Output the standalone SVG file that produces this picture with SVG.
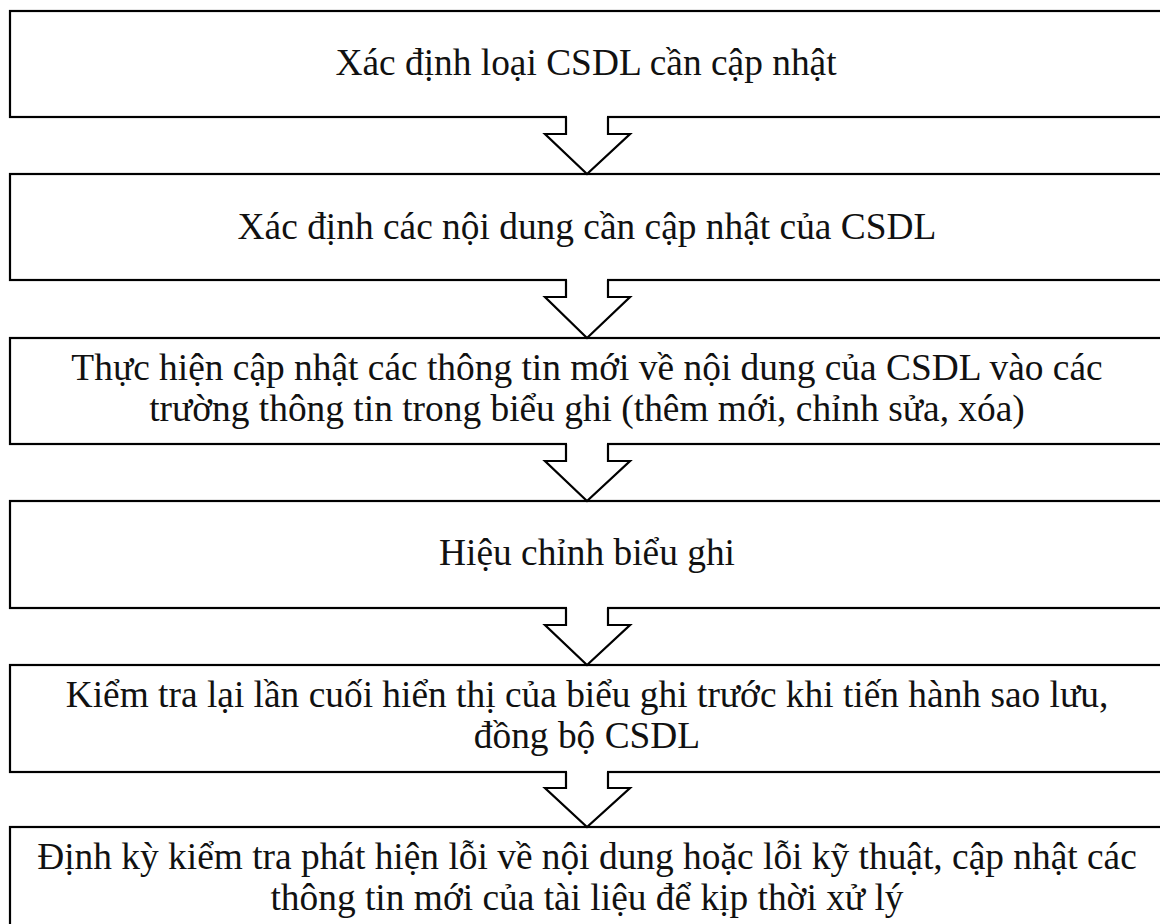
<svg xmlns="http://www.w3.org/2000/svg" width="1160" height="924" viewBox="0 0 1160 924">
<style>
.box{fill:#fff;stroke:#000;stroke-width:2.2}
.t{font-family:"Liberation Serif","Times New Roman",serif;font-size:37.4px;fill:#111;text-anchor:middle}
.arr{fill:#fff;stroke:#000;stroke-width:2.2;stroke-linejoin:miter}
.gap{fill:#fff}
</style>
<rect width="1160" height="924" fill="#fff"/>
<g id="n1"><rect class="box" x="10" y="11" width="1160" height="106"/><text class="t" x="586" y="75">Xác định loại CSDL cần cập nhật</text></g>
<g id="n2"><rect class="box" x="10" y="174" width="1160" height="106"/><text class="t" x="587" y="239">Xác định các nội dung cần cập nhật của CSDL</text></g>
<g id="n3"><rect class="box" x="10" y="338" width="1160" height="106"/><text class="t" x="587" y="380">Thực hiện cập nhật các thông tin mới về nội dung của CSDL vào các</text><text class="t" x="587" y="421">trường thông tin trong biểu ghi (thêm mới, chỉnh sửa, xóa)</text></g>
<g id="n4"><rect class="box" x="10" y="501" width="1160" height="107"/><text class="t" x="587" y="565">Hiệu chỉnh biểu ghi</text></g>
<g id="n5"><rect class="box" x="10" y="665" width="1160" height="107"/><text class="t" x="587" y="707">Kiểm tra lại lần cuối hiển thị của biểu ghi trước khi tiến hành sao lưu,</text><text class="t" x="587" y="748">đồng bộ CSDL</text></g>
<g id="n6"><rect class="box" x="10" y="827" width="1160" height="120"/><text class="t" x="587" y="869">Định kỳ kiểm tra phát hiện lỗi về nội dung hoặc lỗi kỹ thuật, cập nhật các</text><text class="t" x="587" y="910">thông tin mới của tài liệu để kịp thời xử lý</text></g>
<g id="connectors">
<g transform="translate(0,117)"><rect class="gap" x="567" y="-3" width="40" height="6"/><path class="arr" d="M566,0 V17 H545 L587,57 L630,17 H608 V0"/></g>
<g transform="translate(0,280)"><rect class="gap" x="567" y="-3" width="40" height="6"/><path class="arr" d="M566,0 V17 H545 L587,58 L630,17 H608 V0"/></g>
<g transform="translate(0,444)"><rect class="gap" x="567" y="-3" width="40" height="6"/><path class="arr" d="M566,0 V17 H545 L587,57 L630,17 H608 V0"/></g>
<g transform="translate(0,608)"><rect class="gap" x="567" y="-3" width="40" height="6"/><path class="arr" d="M566,0 V17 H545 L587,57 L630,17 H608 V0"/></g>
<g transform="translate(0,772)"><rect class="gap" x="567" y="-3" width="40" height="6"/><path class="arr" d="M566,0 V16 H545 L587,55 L630,16 H608 V0"/></g>
</g>
</svg>
